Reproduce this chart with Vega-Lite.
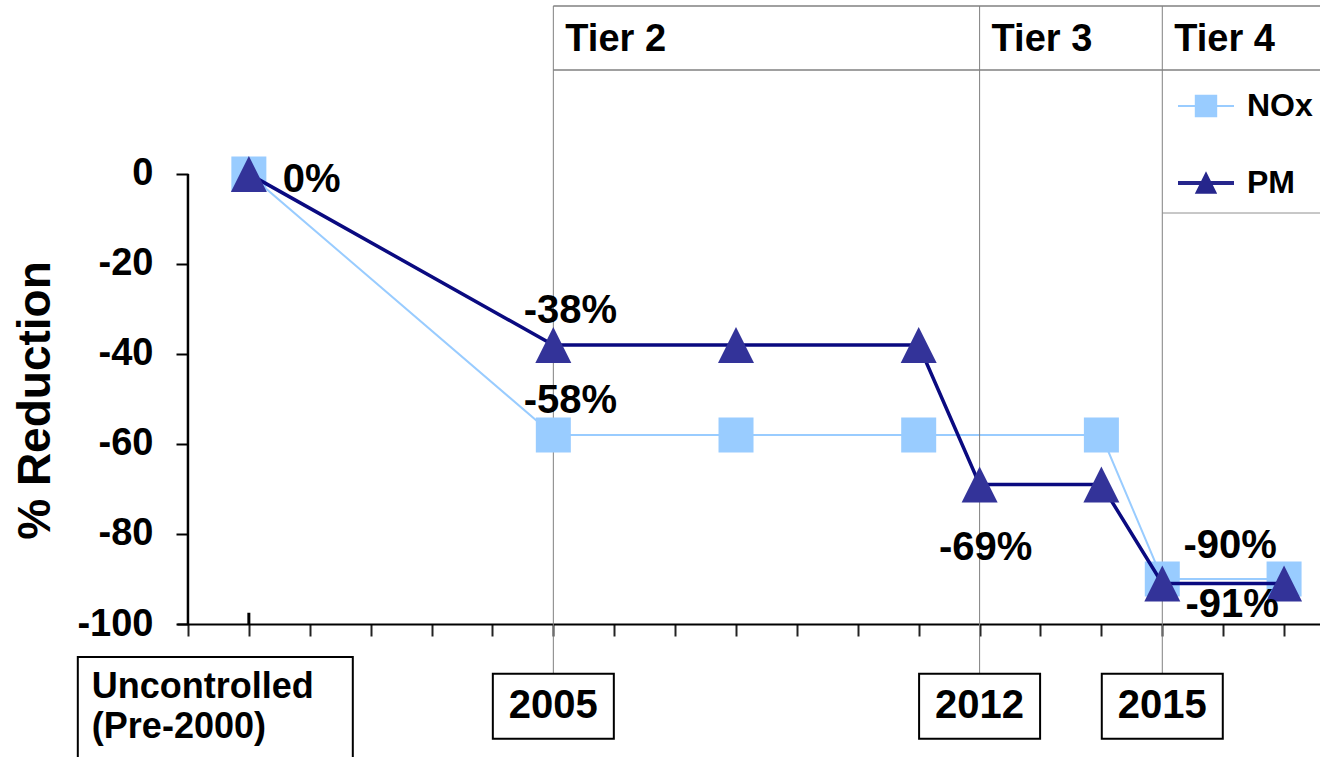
{
  "$schema": "https://vega.github.io/schema/vega-lite/v6.json",
  "width": 1143,
  "height": 618,
  "autosize": {"type": "none"},
  "padding": {"left": 177, "top": 6, "right": 0, "bottom": 133},
  "background": "white",
  "config": {
    "view": {"stroke": null},
    "font": "Liberation Sans",
    "axisX": {"labels": false, "grid": false, "tickSize": 12, "tickWidth": 2, "tickColor": "#222222", "domainColor": "#000000", "domainWidth": 2, "title": null},
    "axisY": {"grid": false, "domain": false, "tickSize": 12, "tickWidth": 2, "tickColor": "#000000", "labelFont": "Liberation Sans", "labelFontWeight": "bold", "labelFontSize": 38, "labelColor": "#000000", "labelPadding": 23}
  },
  "datasets": {
    "emissions": [
      {"series": "NOx", "year": 2000, "value": 0, "label": null},
      {"series": "NOx", "year": 2005, "value": -58, "label": "-58%"},
      {"series": "NOx", "year": 2008, "value": -58, "label": null},
      {"series": "NOx", "year": 2011, "value": -58, "label": null},
      {"series": "NOx", "year": 2014, "value": -58, "label": null},
      {"series": "NOx", "year": 2015, "value": -90, "label": null},
      {"series": "NOx", "year": 2017, "value": -90, "label": "-90%"},
      {"series": "PM", "year": 2000, "value": 0, "label": "0%"},
      {"series": "PM", "year": 2005, "value": -38, "label": "-38%"},
      {"series": "PM", "year": 2008, "value": -38, "label": null},
      {"series": "PM", "year": 2011, "value": -38, "label": null},
      {"series": "PM", "year": 2012, "value": -69, "label": "-69%"},
      {"series": "PM", "year": 2014, "value": -69, "label": null},
      {"series": "PM", "year": 2015, "value": -91, "label": null},
      {"series": "PM", "year": 2017, "value": -91, "label": "-91%"}
    ],
    "tiers": [
      {"tier": "Tier 2", "year": 2005},
      {"tier": "Tier 3", "year": 2012},
      {"tier": "Tier 4", "year": 2015}
    ],
    "milestones": [
      {"year": 2000, "label": ["Uncontrolled", "(Pre-2000)"]},
      {"year": 2005, "label": "2005"},
      {"year": 2012, "label": "2012"},
      {"year": 2015, "label": "2015"}
    ],
    "header": [
      {"edge": "top", "level": 37.33},
      {"edge": "bottom", "level": 23.1}
    ]
  },
  "layer": [
    {
      "data": {"name": "emissions"},
      "transform": [{"filter": "datum.series === 'NOx'"}],
      "mark": {"type": "line", "color": "#99CCFF", "strokeWidth": 2},
      "encoding": {
        "x": {
          "field": "year", "type": "quantitative",
          "scale": {"domain": [1998.82, 2017.59], "nice": false, "zero": false},
          "axis": {
            "values": [1999, 2000, 2001, 2002, 2003, 2004, 2005, 2006, 2007, 2008, 2009, 2010, 2011, 2012, 2013, 2014, 2015, 2016, 2017],
            "title": null
          }
        },
        "y": {
          "field": "value", "type": "quantitative",
          "scale": {"domain": [-100, 37.33], "nice": false, "zero": false},
          "axis": {
            "values": [0, -20, -40, -60, -80, -100],
            "title": "% Reduction", "offset": -11,
            "labelExpr": "'' + datum.value",
            "titleFont": "Liberation Sans", "titleFontSize": 46, "titleFontWeight": "bold", "titleColor": "#000000",
            "titleX": -153, "titleY": 394, "titleAlign": "center", "titleBaseline": "middle", "titleAngle": -90
          }
        }
      }
    },
    {
      "data": {"name": "tiers"},
      "mark": {"type": "rule", "color": "#808080", "strokeWidth": 1},
      "encoding": {
        "x": {"field": "year", "type": "quantitative"},
        "y": {"datum": 37.33, "type": "quantitative"},
        "y2": {"datum": -111.1}
      }
    },
    {
      "data": {"name": "header"},
      "mark": {"type": "rule", "color": "#808080", "strokeWidth": 1.5},
      "encoding": {
        "x": {"datum": 2005, "type": "quantitative"},
        "x2": {"value": "width"},
        "y": {"field": "level", "type": "quantitative"}
      }
    },
    {
      "data": {"name": "tiers"},
      "transform": [{"filter": "datum.tier === 'Tier 4'"}],
      "mark": {"type": "rule", "color": "#909090", "strokeWidth": 1},
      "encoding": {
        "x": {"field": "year", "type": "quantitative"},
        "x2": {"value": "width"},
        "y": {"datum": -8.67, "type": "quantitative"}
      }
    },
    {
      "data": {"name": "milestones"},
      "transform": [{"filter": "datum.year === 2000"}],
      "mark": {"type": "rule", "color": "#000000", "strokeWidth": 3},
      "encoding": {
        "x": {"field": "year", "type": "quantitative"},
        "y": {"datum": -97.5, "type": "quantitative"},
        "y2": {"datum": -100}
      }
    },
    {
      "data": {"name": "tiers"},
      "transform": [{"filter": "datum.tier === 'Tier 2'"}],
      "mark": {"type": "rule", "color": "#000000", "strokeWidth": 2.5},
      "encoding": {
        "x": {"datum": 1999, "type": "quantitative"},
        "y": {"datum": 0, "type": "quantitative"},
        "y2": {"datum": -100}
      }
    },
    {
      "data": {"name": "emissions"},
      "transform": [{"filter": "datum.series === 'NOx'"}],
      "mark": {"type": "point", "shape": "square", "filled": true, "size": 1225, "color": "#99CCFF", "opacity": 1, "strokeWidth": 0},
      "encoding": {
        "x": {"field": "year", "type": "quantitative"},
        "y": {"field": "value", "type": "quantitative"}
      }
    },
    {
      "data": {"name": "emissions"},
      "transform": [{"filter": "datum.series === 'PM'"}],
      "mark": {"type": "line", "color": "#0A0A80", "strokeWidth": 3.5},
      "encoding": {
        "x": {"field": "year", "type": "quantitative"},
        "y": {"field": "value", "type": "quantitative"}
      }
    },
    {
      "data": {"name": "emissions"},
      "transform": [{"filter": "datum.series === 'PM'"}],
      "mark": {"type": "point", "shape": "M0,-1L1,1L-1,1Z", "filled": true, "size": 1296, "color": "#333399", "opacity": 1, "strokeWidth": 0},
      "encoding": {
        "x": {"field": "year", "type": "quantitative"},
        "y": {"field": "value", "type": "quantitative"}
      }
    },
    {
      "data": {"name": "emissions"},
      "transform": [{"filter": "datum.label === '0%'"}],
      "mark": {"type": "text", "align": "left", "baseline": "middle", "dx": 34, "dy": 6, "fontSize": 40, "fontWeight": "bold", "color": "#000000"},
      "encoding": {
        "x": {"field": "year", "type": "quantitative"},
        "y": {"field": "value", "type": "quantitative"},
        "text": {"field": "label"}
      }
    },
    {
      "data": {"name": "emissions"},
      "transform": [{"filter": "datum.label === '-38%' || datum.label === '-58%'"}],
      "mark": {"type": "text", "align": "center", "baseline": "middle", "dx": 17, "dy": -34, "fontSize": 40, "fontWeight": "bold", "color": "#000000"},
      "encoding": {
        "x": {"field": "year", "type": "quantitative"},
        "y": {"field": "value", "type": "quantitative"},
        "text": {"field": "label"}
      }
    },
    {
      "data": {"name": "emissions"},
      "transform": [{"filter": "datum.label === '-69%'"}],
      "mark": {"type": "text", "align": "center", "baseline": "middle", "dx": 6, "dy": 64, "fontSize": 40, "fontWeight": "bold", "color": "#000000"},
      "encoding": {
        "x": {"field": "year", "type": "quantitative"},
        "y": {"field": "value", "type": "quantitative"},
        "text": {"field": "label"}
      }
    },
    {
      "data": {"name": "emissions"},
      "transform": [{"filter": "datum.label === '-90%'"}],
      "mark": {"type": "text", "align": "center", "baseline": "middle", "dx": -54, "dy": -33, "fontSize": 40, "fontWeight": "bold", "color": "#000000"},
      "encoding": {
        "x": {"field": "year", "type": "quantitative"},
        "y": {"field": "value", "type": "quantitative"},
        "text": {"field": "label"}
      }
    },
    {
      "data": {"name": "emissions"},
      "transform": [{"filter": "datum.label === '-91%'"}],
      "mark": {"type": "text", "align": "center", "baseline": "middle", "dx": -52, "dy": 22, "fontSize": 40, "fontWeight": "bold", "color": "#000000"},
      "encoding": {
        "x": {"field": "year", "type": "quantitative"},
        "y": {"field": "value", "type": "quantitative"},
        "text": {"field": "label"}
      }
    },
    {
      "data": {"name": "milestones"},
      "transform": [{"filter": "datum.year !== 2000"}],
      "mark": {"type": "point", "shape": "M-1,-0.537H1V0.537H-1Z", "filled": false, "size": 14641, "color": "#000000", "strokeWidth": 2, "opacity": 1},
      "encoding": {
        "x": {"field": "year", "type": "quantitative"},
        "y": {"datum": -118.3, "type": "quantitative"}
      }
    },
    {
      "data": {"name": "milestones"},
      "transform": [{"filter": "datum.year === 2000"}],
      "mark": {"type": "point", "shape": "M-1.244,-0.359H0.756V0.645H-1.244Z", "filled": false, "size": 75625, "color": "#000000", "strokeWidth": 2, "opacity": 1},
      "encoding": {
        "x": {"field": "year", "type": "quantitative"},
        "y": {"datum": -118.3, "type": "quantitative"}
      }
    },
    {
      "data": {"name": "milestones"},
      "transform": [{"filter": "datum.year !== 2000"}],
      "mark": {"type": "text", "align": "center", "baseline": "middle", "fontSize": 40, "fontWeight": "bold", "color": "#000000"},
      "encoding": {
        "x": {"field": "year", "type": "quantitative"},
        "y": {"datum": -118.3, "type": "quantitative"},
        "text": {"field": "label"}
      }
    },
    {
      "data": {"name": "milestones"},
      "transform": [{"filter": "datum.year === 2000"}],
      "mark": {"type": "text", "align": "left", "baseline": "middle", "dx": -157, "dy": -19, "fontSize": 36, "lineHeight": 40, "fontWeight": "bold", "color": "#000000"},
      "encoding": {
        "x": {"field": "year", "type": "quantitative"},
        "y": {"datum": -118.3, "type": "quantitative"},
        "text": {"field": "label"}
      }
    },
    {
      "data": {"name": "tiers"},
      "mark": {"type": "text", "align": "left", "baseline": "middle", "dx": 12, "fontSize": 38, "fontWeight": "bold", "color": "#000000"},
      "encoding": {
        "x": {"field": "year", "type": "quantitative"},
        "y": {"datum": 29.8, "type": "quantitative"},
        "text": {"field": "tier"}
      }
    },
    {
      "data": {"name": "emissions"},
      "transform": [{"filter": "false"}],
      "mark": {"type": "point", "filled": true, "opacity": 1},
      "encoding": {
        "x": {"field": "year", "type": "quantitative"},
        "y": {"field": "value", "type": "quantitative"},
        "color": {
          "field": "series", "type": "nominal",
          "scale": {"domain": ["NOx", "PM"], "range": ["#99CCFF", "#26268C"]},
          "legend": {
            "orient": "none", "legendX": 1001, "legendY": 72, "title": null, "padding": 0,
            "symbolSize": 3136, "symbolStrokeWidth": 0, "symbolOpacity": 1,
            "labelFont": "Liberation Sans", "labelFontSize": 32, "labelFontWeight": "bold", "labelColor": "#000000",
            "labelOffset": 13, "rowPadding": 33
          }
        },
        "shape": {
          "field": "series", "type": "nominal",
          "scale": {"domain": ["NOx", "PM"], "range": ["M-1,-0.04H1V0.04H-1Z M-0.4,-0.4H0.4V0.4H-0.4Z", "M-1,-0.07H1V0.07H-1Z M0,-0.42L0.4,0.38L-0.4,0.38Z"]},
          "legend": {
            "orient": "none", "legendX": 1001, "legendY": 72, "title": null, "padding": 0,
            "symbolSize": 3136, "symbolStrokeWidth": 0, "symbolOpacity": 1,
            "labelFont": "Liberation Sans", "labelFontSize": 32, "labelFontWeight": "bold", "labelColor": "#000000",
            "labelOffset": 13, "rowPadding": 33
          }
        }
      }
    }
  ]
}
